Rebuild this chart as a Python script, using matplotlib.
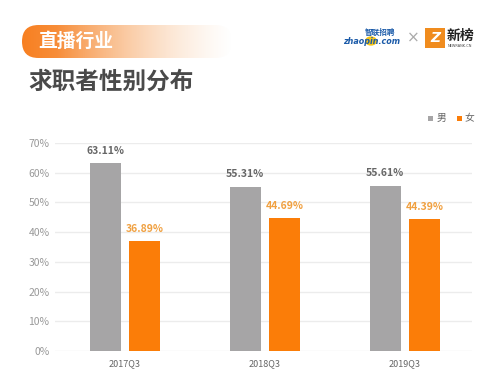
import numpy as np
import matplotlib
matplotlib.use("Agg")
import matplotlib.pyplot as plt
from matplotlib.patches import FancyBboxPatch, Rectangle, Circle

plt.rcParams['font.family'] = ['Noto Sans CJK SC', 'DejaVu Sans']

quarters = ['2017Q3', '2018Q3', '2019Q3']
male = [63.11, 55.31, 55.61]
female = [36.89, 44.69, 44.39]
yticks = [0, 10, 20, 30, 40, 50, 60, 70]

gray = '#a6a5a6'
orange = '#fb7d08'

W, H = 499, 388
fig = plt.figure(figsize=(W / 100, H / 100), dpi=100)

def box(x0, y0, x1, y1):
    # pixel box (top-left origin) -> figure fraction
    return [x0 / W, 1 - y1 / H, (x1 - x0) / W, (y1 - y0) / H]

# header band with gradient (axes in pixel units)
hx0, hy0, hx1, hy1 = 22, 25, 232, 58
hax = fig.add_axes(box(hx0, hy0, hx1, hy1))
hw, hh = hx1 - hx0, hy1 - hy0
hax.set_xlim(0, hw)
hax.set_ylim(0, hh)
hax.axis('off')
grad = np.zeros((1, 256, 4))
grad[..., 0] = 0.97
grad[..., 1] = np.linspace(0.50, 0.82, 256)
grad[..., 2] = np.linspace(0.13, 0.68, 256)
grad[..., 3] = np.clip(np.linspace(1.2, 0.0, 256), 0, 1)
im = hax.imshow(grad, extent=[0, hw, 0, hh], aspect='auto')
clip = FancyBboxPatch((0, 0), hw, hh,
                      boxstyle=f'round,pad=0,rounding_size={hh / 2}',
                      transform=hax.transData,
                      facecolor='none', edgecolor='none')
hax.add_patch(clip)
im.set_clip_path(clip)
fig.text(38 / W, 1 - 41 / H, '直播行业', color='white', fontsize=13.5,
         fontweight='bold', style='italic', va='center', ha='left')
fig.text(28 / W, 1 - 82 / H, '求职者性别分布', color='#4a4a4a', fontsize=17,
         fontweight='bold', va='center', ha='left')

# logos (approximate)
fig.patches.append(Circle((371 / W, 1 - 41 / H), 6 / W, transform=fig.transFigure,
                          facecolor='#f5c518', edgecolor='none'))
fig.text(343 / W, 1 - 41 / H, 'zhaopin.com', color='#1a5aa8', fontsize=5.8,
         fontweight='bold', style='italic', va='center', ha='left',
         family='DejaVu Sans')
fig.text(365 / W, 1 - 32 / H, '智联招聘', color='#1a5aa8', fontsize=5.5,
         fontweight='bold', va='center', ha='left')
fig.text(413 / W, 1 - 38 / H, '×', color='#aaaaaa', fontsize=11,
         va='center', ha='center', family='DejaVu Sans')
fig.patches.append(Rectangle((425 / W, 1 - 48 / H), 20 / W, 20 / H,
                             transform=fig.transFigure, facecolor='#f08c1e',
                             edgecolor='none'))
fig.text(435 / W, 1 - 38 / H, 'Z', color='white', fontsize=10, fontweight='bold',
         style='italic', va='center', ha='center', family='DejaVu Sans')
fig.text(447 / W, 1 - 36 / H, '新榜', color='#222222', fontsize=10,
         fontweight='bold', va='center', ha='left')
fig.text(448 / W, 1 - 46 / H, 'NEWRANK.CN', color='#444444', fontsize=2.5,
         va='center', ha='left', family='DejaVu Sans')

# chart
ax = fig.add_axes(box(55, 143, 472, 351))
x = np.arange(len(quarters))
bw = 0.22
off = 0.14
ax.bar(x - off, male, bw, color=gray, zorder=3)
ax.bar(x + off, female, bw, color=orange, zorder=3)
for xi, m, f in zip(x, male, female):
    ax.text(xi - off, m + 2.5, f'{m:.2f}%', ha='center', va='bottom',
            fontsize=7.5, color='#666666', fontweight='bold')
    ax.text(xi + off, f + 2.5, f'{f:.2f}%', ha='center', va='bottom',
            fontsize=7.5, color='#f0a040', fontweight='bold')

ax.set_xlim(-0.5, 2.48)
ax.set_ylim(0, 70)
ax.set_yticks(yticks)
ax.set_yticklabels([f'{v}%' for v in yticks], fontsize=7.5, color='#999999')
ax.set_xticks(x)
ax.set_xticklabels(quarters, fontsize=6.5, color='#666666')
ax.tick_params(length=0, pad=4)
ax.tick_params(axis='x', pad=6)
ax.grid(axis='y', color='#ececec', linewidth=1, zorder=0)
for s in ax.spines.values():
    s.set_visible(False)

# legend
fig.patches.append(Rectangle((428 / W, 1 - 121 / H), 5 / W, 5 / H,
                             transform=fig.transFigure, facecolor=gray))
fig.text(437 / W, 1 - 118 / H, '男', fontsize=7, color='#666666', va='center')
fig.patches.append(Rectangle((457 / W, 1 - 121 / H), 5 / W, 5 / H,
                             transform=fig.transFigure, facecolor=orange))
fig.text(465 / W, 1 - 118 / H, '女', fontsize=7, color='#666666', va='center')

fig.savefig('out.png', dpi=100)
